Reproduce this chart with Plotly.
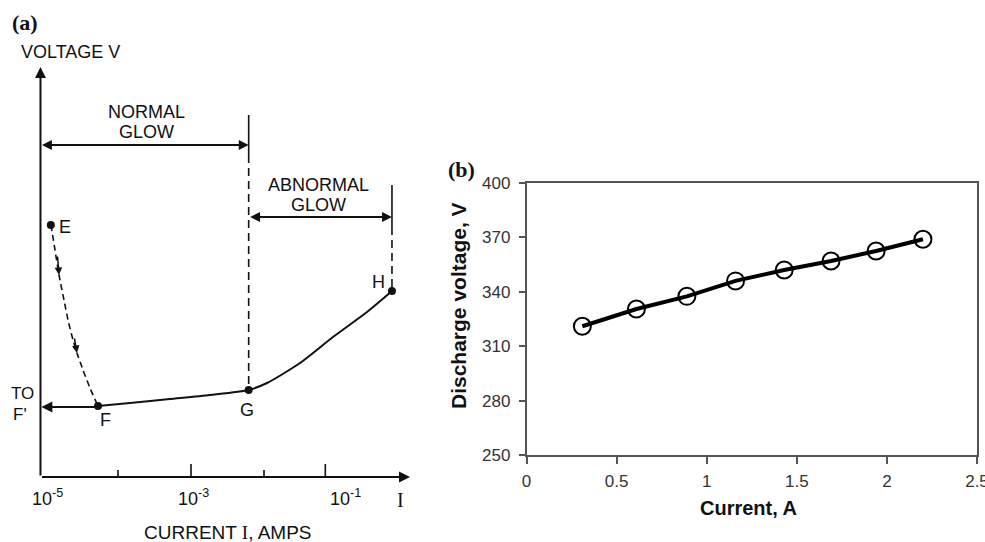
import plotly.graph_objects as go

# ---------------- data ----------------
# Panel (a): schematic V-I characteristic (x = log10 of current, y = arbitrary voltage units)
a_point_labels = ["E", "F", "G", "H"]
a_point_logI = [-4.92, -4.274, -2.21, -0.247]
a_point_V = [252, 71, 87, 186]

# dashed transition E -> F
ef_logI = [-4.918, -4.863, -4.808, -4.740, -4.685, -4.616, -4.562, -4.479, -4.384, -4.274]
ef_V = [252, 227, 202, 177, 157, 137, 124, 107, 89, 71]

# solid characteristic F -> G -> H
fgh_logI = [-4.274, -3.836, -3.288, -2.740, -2.21, -1.959, -1.507, -1.055, -0.589, -0.247]
fgh_V = [71, 74, 78, 82, 87, 94, 114, 140, 165, 186]

a_tick_logI = [-4.0, -3.0, -2.0, -1.16]
a_tick_major = [False, True, False, True]
a_ticklabels = ["10<sup>-5</sup>", "10<sup>-3</sup>", "10<sup>-1</sup>"]
a_ticklabel_logI = [-4.96, -2.97, -0.89]

# Panel (b): measured discharge voltage vs current
b_current = [0.31, 0.61, 0.89, 1.16, 1.43, 1.69, 1.94, 2.20]
b_voltage = [321, 330.5, 337.5, 346, 352, 357, 362.5, 369]
b_xticks = [0, 0.5, 1, 1.5, 2, 2.5]
b_xticktext = ["0", "0.5", "1", "1.5", "2", "2.5"]
b_yticks = [250, 280, 310, 340, 370, 400]

# ---------------- figure ----------------
W, H = 985, 542
FA = "Liberation Sans"
FS = "Liberation Serif"
INK = "#111111"

fig = go.Figure()

# panel (a) traces
fig.add_trace(go.Scatter(x=ef_logI, y=ef_V, mode="lines",
                         line=dict(color=INK, width=1.6, dash="6px,4px", shape="spline", smoothing=0.6),
                         xaxis="x", yaxis="y", hoverinfo="skip"))
fig.add_trace(go.Scatter(x=fgh_logI, y=fgh_V, mode="lines",
                         line=dict(color=INK, width=2, shape="spline", smoothing=0.7),
                         xaxis="x", yaxis="y", hoverinfo="skip"))

G_e = a_point_logI[2]
H_e = a_point_logI[3]
# boundary lines at G and H
fig.add_trace(go.Scatter(x=[G_e, G_e], y=[362, 322], mode="lines",
                         line=dict(color=INK, width=1.6), xaxis="x", yaxis="y", hoverinfo="skip"))
fig.add_trace(go.Scatter(x=[G_e, G_e], y=[322, a_point_V[2]], mode="lines",
                         line=dict(color=INK, width=1.6, dash="8px,5px"), xaxis="x", yaxis="y", hoverinfo="skip"))
fig.add_trace(go.Scatter(x=[H_e, H_e], y=[292, 250], mode="lines",
                         line=dict(color=INK, width=1.6), xaxis="x", yaxis="y", hoverinfo="skip"))
fig.add_trace(go.Scatter(x=[H_e, H_e], y=[250, a_point_V[3]], mode="lines",
                         line=dict(color=INK, width=1.6, dash="8px,5px"), xaxis="x", yaxis="y", hoverinfo="skip"))

# ticks of the schematic axis
for e, major in zip(a_tick_logI, a_tick_major):
    fig.add_trace(go.Scatter(x=[e, e], y=[0, 13 if major else 7], mode="lines",
                             line=dict(color=INK, width=1.6), xaxis="x", yaxis="y", hoverinfo="skip"))

# points E F G H
fig.add_trace(go.Scatter(x=a_point_logI, y=a_point_V, mode="markers",
                         marker=dict(color=INK, size=8), xaxis="x", yaxis="y", hoverinfo="skip"))

# panel (b)
fig.add_trace(go.Scatter(x=b_current, y=b_voltage, mode="lines+markers",
                         line=dict(color="black", width=4),
                         marker=dict(symbol="circle-open", size=17, color="black", line=dict(width=2)),
                         xaxis="x2", yaxis="y2", hoverinfo="skip"))

ann = []
AX0 = -5.062  # x position of the vertical axis of panel (a)


def arrow(x, y, ax, ay, both=False, size=1.1, width=1.8):
    ann.append(dict(x=x, y=y, ax=ax, ay=ay, xref="x", yref="y", axref="x", ayref="y",
                    text="", showarrow=True, arrowhead=2, arrowsize=size, arrowwidth=width,
                    arrowcolor=INK, standoff=0, startstandoff=0,
                    arrowside="end+start" if both else "end", startarrowhead=2, startarrowsize=size))


# axes of panel (a)
arrow(AX0, 410, AX0, 0, width=2)
arrow(0.0, 0, AX0, 0, width=2)
# normal / abnormal glow ranges
arrow(G_e, 332, AX0, 332, both=True)
arrow(H_e, 260, G_e, 260, both=True)
# to F'
arrow(-5.05, 70, a_point_logI[1], 70, width=2)
# arrows on E-F transition
arrow(-4.808, 202, -4.83, 222, size=1.0, width=1.5)
arrow(-4.562, 124, -4.60, 140, size=1.0, width=1.5)


def label(text, x, y, size=18, font=FA, **kw):
    d = dict(x=x, y=y, xref="x", yref="y", text=text, showarrow=False,
             font=dict(family=font, size=size, color=INK), xanchor="center", yanchor="middle")
    d.update(kw)
    ann.append(d)


label("<b>(a)</b>", -5.274, 455, size=22, font=FS)
label("VOLTAGE V", -4.644, 425, size=18)
label("NORMAL", -3.616, 365)
label("GLOW", -3.616, 345)
label("ABNORMAL", -1.26, 292)
label("GLOW", -1.26, 272)
label("E", -4.726, 250)
label("F", -4.178, 57)
label("G", -2.233, 67)
label("H", -0.438, 195)
label("TO", -5.315, 84, size=17)
label("F'", -5.342, 63, size=17)
for t, e in zip(a_ticklabels, a_ticklabel_logI):
    label(t, e, -20)
label("I", -0.137, -23, font=FS, size=20)
label("CURRENT <span style='font-family:Liberation Serif'>I</span>, AMPS", -2.493, -55, size=19)

# panel (b) labels
def plabel(text, px, py, size, font, angle=0):
    ann.append(dict(x=px / W, y=1 - py / H, xref="paper", yref="paper", text=text,
                    showarrow=False, textangle=angle, xanchor="center", yanchor="middle",
                    font=dict(family=font, size=size, color=INK)))


plabel("<b>(b)</b>", 461, 170, 22, FS)
plabel("<b>Discharge voltage, V</b>", 458, 306, 21, FA, angle=-90)
plabel("<b>Current, A</b>", 748, 508, 20, FA)

fig.update_layout(
    width=W, height=H, margin=dict(l=0, r=0, t=0, b=0, autoexpand=False),
    paper_bgcolor="white", plot_bgcolor="white", showlegend=False,
    xaxis=dict(domain=[0, 420 / W], range=[-5 - 45 / 73, -5 + 375 / 73], visible=False),
    yaxis=dict(domain=[0, 1], range=[-65, 477], visible=False),
    xaxis2=dict(domain=[526.5 / W, 977 / W], range=[0, 2.5], anchor="y2", automargin=False,
                tickvals=b_xticks, ticktext=b_xticktext, ticks="outside", ticklen=7,
                tickcolor="#555", tickwidth=1.5, showline=True, mirror=True,
                linecolor="#555", linewidth=1.5, showgrid=False, zeroline=False,
                ticklabeloverflow="allow",
                tickfont=dict(family=FA, size=17, color="#333"), ticklabelstandoff=3),
    yaxis2=dict(domain=[87 / H, 359 / H], range=[250, 400], anchor="x2", automargin=False,
                tickvals=b_yticks, ticks="outside", ticklen=6,
                tickcolor="#555", tickwidth=1.5, showline=True, mirror=True,
                linecolor="#555", linewidth=1.5, showgrid=False, zeroline=False,
                tickfont=dict(family=FA, size=17, color="#333"), ticklabelstandoff=5),
    annotations=ann,
)

fig.write_html("out.html", config={"displayModeBar": False},
               post_script="document.body.style.margin='0px';document.body.style.overflow='hidden';")
